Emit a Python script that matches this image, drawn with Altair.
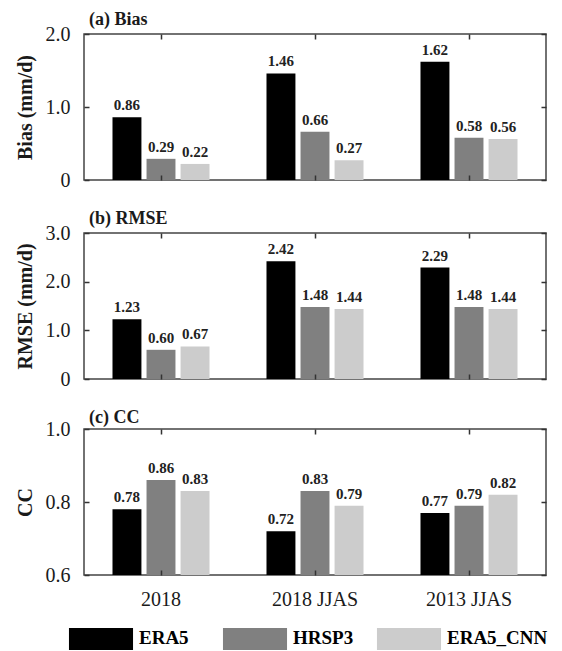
import altair as alt
import pandas as pd

FONT = "Liberation Serif"

periods = ["2018", "2018 JJAS", "2013 JJAS"]
models = ["ERA5", "HRSP3", "ERA5_CNN"]
colors = ["#000000", "#808080", "#cccccc"]

bias_era5 = [0.86, 1.46, 1.62]
bias_hrsp3 = [0.29, 0.66, 0.58]
bias_cnn = [0.22, 0.27, 0.56]

rmse_era5 = [1.23, 2.42, 2.29]
rmse_hrsp3 = [0.60, 1.48, 1.48]
rmse_cnn = [0.67, 1.44, 1.44]

cc_era5 = [0.78, 0.72, 0.77]
cc_hrsp3 = [0.86, 0.83, 0.79]
cc_cnn = [0.83, 0.79, 0.82]

bias_ticks = [0, 1, 2]
rmse_ticks = [0, 1, 2, 3]
cc_ticks = [0.6, 0.8, 1.0]

W, H = 462, 146
FRAME = alt.ViewBackground(stroke="#444444", strokeWidth=1.5)

color_scale = alt.Scale(domain=models, range=colors)


def make_df(a, b, c):
    rows = []
    for i, p in enumerate(periods):
        for m, vals in zip(models, (a, b, c)):
            rows.append({"period": p, "model": m, "value": vals[i]})
    return pd.DataFrame(rows)


def panel(df, title, ytitle, domain, ticks, show_x, title_offset):
    x_axis = alt.Axis(
        title=None, labels=show_x, ticks=False, domain=False, grid=True,
        gridDash=[5, H - 10, 5], gridColor="#333333", gridWidth=1.5,
        labelFont=FONT, labelFontSize=20, labelColor="#1a1a1a",
        labelPadding=14, labelAngle=0, zindex=1,
    )
    x = alt.X("period:N", sort=periods,
              scale=alt.Scale(paddingInner=0.37, paddingOuter=0.185),
              axis=x_axis)
    xo = alt.XOffset("model:N", sort=models,
                     scale=alt.Scale(paddingInner=0.15, paddingOuter=0))
    y_axis = alt.Axis(
        values=ticks, title=ytitle, ticks=False, tickSize=0, domain=False,
        grid=True, gridDash=[5, W - 10, 5], gridColor="#333333", gridWidth=1.5,
        labelExpr="datum.value == 0 ? '0' : format(datum.value, '.1f')",
        labelFont=FONT, labelFontSize=20, labelColor="#1a1a1a",
        labelPadding=14, titleFont=FONT, titleFontSize=20,
        titleFontWeight="bold", titleColor="#1a1a1a", titlePadding=10,
        zindex=1,
    )
    y = alt.Y("value:Q", scale=alt.Scale(domain=domain, nice=False, zero=False),
              axis=y_axis)
    color = alt.Color("model:N", sort=models, scale=color_scale, legend=None)
    bars = alt.Chart(df).mark_bar(clip=True).encode(
        x=x, xOffset=xo, y=y, color=color
    )
    text = alt.Chart(df).mark_text(
        baseline="bottom", dy=-4, font=FONT, fontSize=15,
        fontWeight="bold", color="#222222",
    ).encode(
        x=alt.X("period:N", sort=periods),
        xOffset=alt.XOffset("model:N", sort=models),
        y=alt.Y("value:Q"),
        text=alt.Text("value:Q", format=".2f"),
    )
    return alt.layer(bars, text).properties(
        width=W, height=H, view=FRAME,
        title=alt.TitleParams(
            text=title, anchor="start", frame="group", font=FONT,
            fontSize=18, fontWeight="bold", color="#1a1a1a",
            offset=title_offset, dx=5,
        ),
    )


pa = panel(make_df(bias_era5, bias_hrsp3, bias_cnn), "(a) Bias",
           "Bias (mm/d)", [0, 2], bias_ticks, False, -5)
pb = panel(make_df(rmse_era5, rmse_hrsp3, rmse_cnn), "(b) RMSE",
           "RMSE (mm/d)", [0, 3], rmse_ticks, False, -5)
pc = panel(make_df(cc_era5, cc_hrsp3, cc_cnn), "(c) CC",
           "CC", [0.6, 1.0], cc_ticks, True, -8)

# legend drawn as its own small chart
legend_df = pd.DataFrame({"model": models})
lx = alt.X("model:N", sort=models, axis=None,
           scale=alt.Scale(paddingInner=0.584, paddingOuter=0.292))
swatches = alt.Chart(legend_df).mark_bar(xOffset=-60).encode(
    x=lx,
    color=alt.Color("model:N", sort=models, scale=color_scale, legend=None),
)
labels = alt.Chart(legend_df).mark_text(
    align="left", baseline="middle", dx=-22, dy=-1, font=FONT, fontSize=19,
    fontWeight="bold", color="#000000",
).encode(x=lx, text="model:N")
legend_chart = alt.layer(swatches, labels).properties(
    width=W, height=22, view=alt.ViewBackground(stroke=None)
)

chart = (
    alt.vconcat(pa, pb, pc, legend_chart, spacing=18)
    .properties(padding={"left": 6, "top": 2, "right": 0, "bottom": 0})
)

chart.save("out.html", embed_options={"renderer": "svg", "actions": False})
